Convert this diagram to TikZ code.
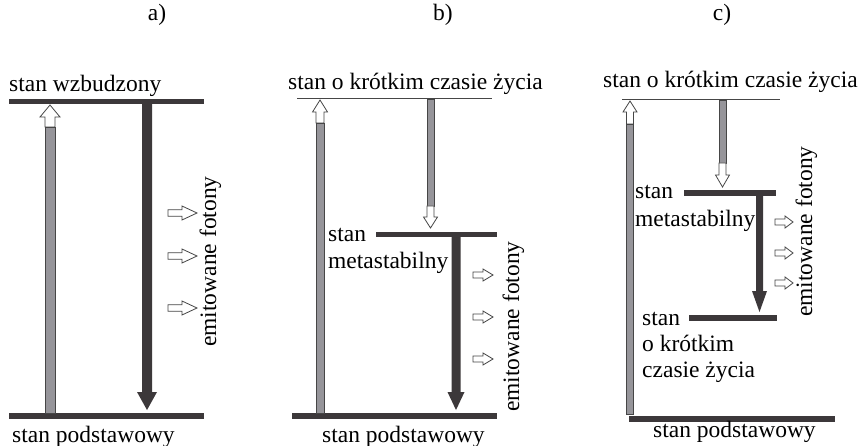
\documentclass[tikz,border=0pt]{standalone}
\usepackage{fontspec}
\setmainfont{Liberation Serif}
\definecolor{barc}{RGB}{60,56,58}
\definecolor{greyc}{RGB}{150,149,154}
\definecolor{linec}{RGB}{70,70,70}
\tikzset{
  txt/.style={inner sep=0pt, font=\fontsize{23.5}{27}\selectfont, text=black},
  bar/.style={fill=barc, draw=none},
  thinlevel/.style={draw=linec, line width=1pt},
  greyshaft/.style={fill=greyc, draw=linec, line width=0.8pt},
  hollow/.style={fill=white, draw=linec, line width=0.8pt, line join=miter},
  darkarrow/.style={fill=barc, draw=none},
}
% up arrow: x, tip, headlen, whitelen, shaft half, head half, bottom
\newcommand\myup[7]{%
  \draw[greyshaft] ({#1-#5},{#2+#3+#4}) rectangle ({#1+#5},#7);
  \draw[hollow] ({#1-#5},{#2+#3+#4}) -- ({#1-#5},{#2+#3}) -- ({#1-#6},{#2+#3}) -- (#1,#2)
     -- ({#1+#6},{#2+#3}) -- ({#1+#5},{#2+#3}) -- ({#1+#5},{#2+#3+#4}) -- cycle;}
% down hollow arrow: x, top, greyend, whiteend, tip, shaft half, head half
\newcommand\mydown[7]{%
  \draw[greyshaft] ({#1-#6},#2) rectangle ({#1+#6},#3);
  \draw[hollow] ({#1-#6},#3) -- ({#1-#6},#4) -- ({#1-#7},#4) -- (#1,#5)
     -- ({#1+#7},#4) -- ({#1+#6},#4) -- ({#1+#6},#3) -- cycle;}
% dark arrow: x, top, headstart, tip, shaft half, head half
\newcommand\mydark[6]{%
  \fill[darkarrow] ({#1-#5},#2) -- ({#1-#5},#3) -- ({#1-#6},#3) -- (#1,#4)
     -- ({#1+#6},#3) -- ({#1+#5},#3) -- ({#1+#5},#2) -- cycle;}
% photon: x0, xhead, x1, y, shaft half, head half
\newcommand\myphoton[6]{%
  \draw[hollow] (#1,{#4-#5}) -- (#2,{#4-#5}) -- (#2,{#4-#6}) -- (#3,#4)
     -- (#2,{#4+#6}) -- (#2,{#4+#5}) -- (#1,{#4+#5}) -- cycle;}
\begin{document}
\begin{tikzpicture}[x=1pt,y=-1pt]
\useasboundingbox[fill=white] (0,0) rectangle (864,446);

% panel labels
\node[txt, anchor=base] (la) at (157,21) {a)};
\node[txt, anchor=base] (lb) at (443,21) {b)};
\node[txt, anchor=base] (lc) at (722,21) {c)};

% ---------- a) ----------
\fill[bar] (9,99.5) rectangle (204,104.5);
\fill[bar] (9,413) rectangle (204,419);
\myup{50}{105}{12}{10}{5}{10}{413}
\mydark{147}{104}{392}{410}{5}{10}
\myphoton{168}{182}{197}{213}{3.3}{7}
\myphoton{168}{182}{197}{256}{3.3}{7}
\myphoton{168}{182}{197}{308}{3.3}{7}
\node[txt, anchor=base west] (atop) at (9,92) {stan wzbudzony};
\node[txt, anchor=base west] (abot) at (12,442) {stan podstawowy};
\node[txt, anchor=base west, rotate=90] (aemit) at (216,347) {emitowane fotony};

% ---------- b) ----------
\draw[thinlevel] (297,99) -- (492,99);
\fill[bar] (376,232) rectangle (497,237.5);
\fill[bar] (292,413) rectangle (497,419);
\myup{320}{100}{12}{11}{4}{7.5}{413}
\mydown{430.5}{99.5}{206}{217}{228}{3.5}{7}
\mydark{456}{237}{392}{410}{4.5}{8.5}
\myphoton{473}{483}{493}{275}{3}{6}
\myphoton{473}{483}{493}{317}{3}{6}
\myphoton{473}{483}{493}{359}{3}{6}
\node[txt, anchor=base west] (btop) at (288,90) {stan o krótkim czasie życia};
\node[txt, anchor=base west] (bmeta1) at (328,242) {stan};
\node[txt, anchor=base west] (bmeta2) at (328,269) {metastabilny};
\node[txt, anchor=base west] (bbot) at (322,442) {stan podstawowy};
\node[txt, anchor=base west, rotate=90] (bemit) at (519,412) {emitowane fotony};

% ---------- c) ----------
\draw[thinlevel] (622,100) -- (780,100);
\fill[bar] (684,190) rectangle (776,196);
\fill[bar] (689,315) rectangle (777,321);
\fill[bar] (629,415.5) rectangle (835,421.5);
\myup{630}{101}{11}{12}{3.5}{7}{414}
\mydown{722.5}{100.5}{163}{175}{187}{3.5}{7}
\mydark{759.5}{196}{291}{312}{3.5}{7.5}
\myphoton{775}{785}{793}{222}{3}{6}
\myphoton{775}{785}{793}{253}{3}{6}
\myphoton{775}{785}{793}{283}{3}{6}
\node[txt, anchor=base west] (ctop) at (603,88) {stan o krótkim czasie życia};
\node[txt, anchor=base west] (cmeta1) at (635,199) {stan};
\node[txt, anchor=base west] (cmeta2) at (635,227) {metastabilny};
\node[txt, anchor=base west] (cshort1) at (642,325) {stan};
\node[txt, anchor=base west] (cshort2) at (642,351) {o krótkim};
\node[txt, anchor=base west] (cshort3) at (642,377) {czasie życia};
\node[txt, anchor=base west] (cbot) at (653,437) {stan podstawowy};
\node[txt, anchor=base west, rotate=90] (cemit) at (812,317) {emitowane fotony};
\end{tikzpicture}
\end{document}
